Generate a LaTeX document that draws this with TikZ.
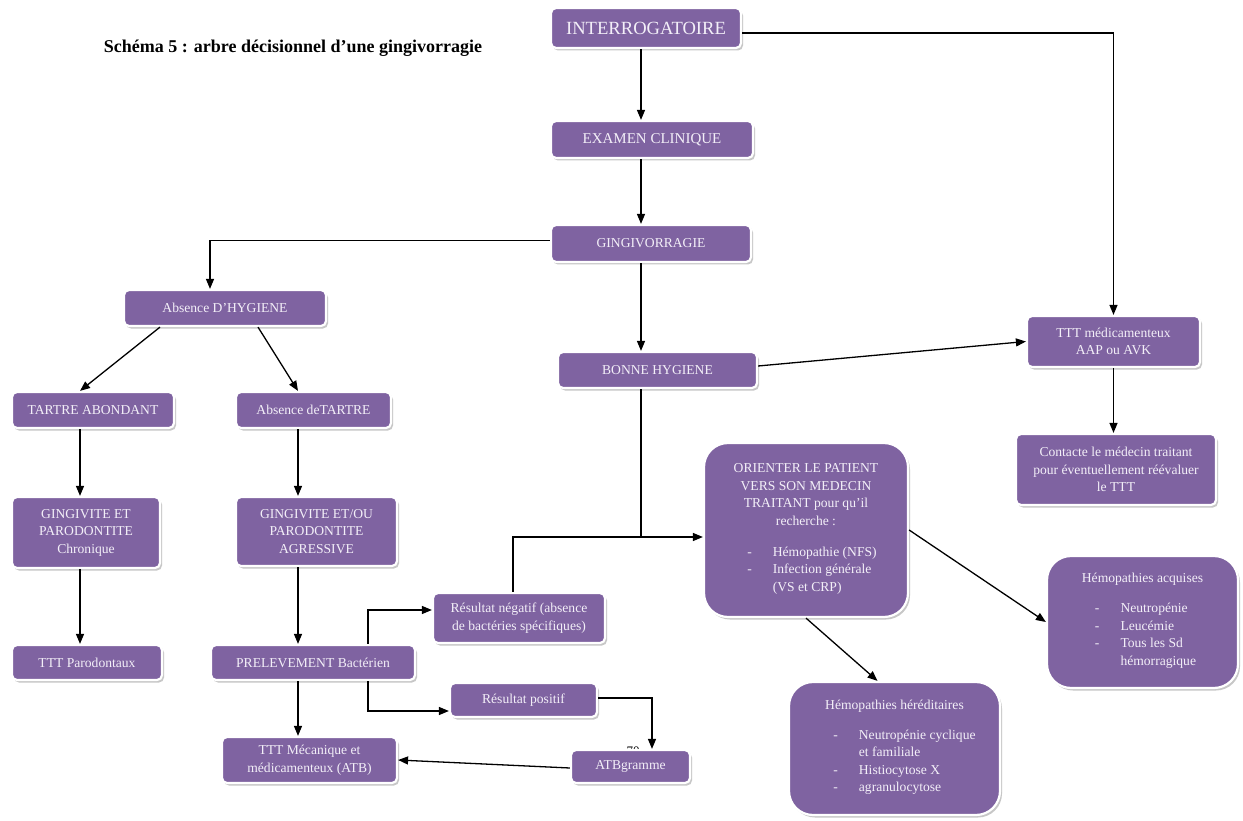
\documentclass[tikz,border=0pt]{standalone}
\usepackage{fontspec}
\setmainfont{Liberation Serif}
\usetikzlibrary{arrows.meta,shadows}
\definecolor{boxfill}{HTML}{7F63A1}
\definecolor{boxtext}{HTML}{F3EFF8}
\tikzset{
  box/.style={draw=white, line width=2.2pt, fill=boxfill, text=boxtext, rounded corners=5pt,
    align=center, inner sep=2pt, font=\fontsize{13.6}{17.5}\selectfont,
    drop shadow={shadow xshift=2pt, shadow yshift=-2.5pt, fill=black!22, opacity=1}},
  bigbox/.style={box, rounded corners=24pt},
  arr/.style={line width=1.3pt, -{Triangle[length=10pt,width=8pt]}},
  ln/.style={line width=1.3pt},
}
\newcommand{\lst}[1]{\begin{tabular}{@{}l@{\hspace{21pt}}l@{}}#1\end{tabular}}
\begin{document}
\begin{tikzpicture}[x=1pt,y=-1pt]
\useasboundingbox (0,0) rectangle (1243,821);
\fill[white] (0,0) rectangle (1243,821);
\node[font=\fontsize{18}{21}\selectfont\bfseries] (title) at (293,48) {Schéma 5 : arbre décisionnel d’une gingivorragie};
\node[font=\fontsize{13}{15}\selectfont] (pg) at (633,751) {70};

\coordinate (spine) at (641,0);
\coordinate (colL) at (80,0);
\coordinate (colM) at (298,0);
\coordinate (colR) at (368,0);

\node[box, minimum width=190pt, minimum height=40pt, font=\fontsize{18.6}{22}\selectfont] (intg) at (646,28) {INTERROGATOIRE};
\node[box, minimum width=202pt, minimum height=37pt, font=\fontsize{15}{18}\selectfont] (exam) at (652,139.5) {EXAMEN CLINIQUE};
\node[box, minimum width=200pt, minimum height=37pt] (gingiv) at (651,243.5) {GINGIVORRAGIE};
\node[box, minimum width=202pt, minimum height=36pt] (absh) at (225,308) {Absence D’HYGIENE};
\node[box, minimum width=162pt, minimum height=36pt] (tartre) at (93,410) {TARTRE ABONDANT};
\node[box, minimum width=155pt, minimum height=36pt] (abst) at (313.5,410) {Absence deTARTRE};
\node[box, minimum width=148pt, minimum height=71pt] (gchron) at (86,532.5) {GINGIVITE ET\\PARODONTITE\\Chronique};
\node[box, minimum width=161pt, minimum height=69pt] (gagr) at (316.5,531.5) {GINGIVITE ET/OU\\PARODONTITE\\AGRESSIVE};
\node[box, minimum width=150pt, minimum height=35pt] (tttp) at (87,662.5) {TTT Parodontaux};
\node[box, minimum width=204pt, minimum height=35pt] (prel) at (313,662.5) {PRELEVEMENT Bactérien};
\node[box, minimum width=172pt, minimum height=50pt] (rneg) at (519,618) {Résultat négatif (absence\\de bactéries spécifiques)};
\node[box, minimum width=147pt, minimum height=34pt] (rpos) at (523.5,700) {Résultat positif};
\node[box, minimum width=175pt, minimum height=46pt] (tttm) at (309.5,760) {TTT Mécanique et\\médicamenteux (ATB)};
\node[box, minimum width=119pt, minimum height=33pt] (atb) at (630.5,766.5) {ATBgramme};
\node[box, minimum width=199pt, minimum height=36pt] (bonne) at (657.5,370) {BONNE HYGIENE};
\node[bigbox, minimum width=204pt, minimum height=174pt] (orient) at (806,530)
  {ORIENTER LE PATIENT\\VERS SON MEDECIN\\TRAITANT pour qu’il\\recherche :\\[17.5pt]
   \hspace*{12pt}\lst{-& Hémopathie (NFS)\\ -& Infection générale\\ & (VS et CRP)}};
\node[box, minimum width=173pt, minimum height=51pt] (tttmed) at (1113.5,341.5) {TTT médicamenteux\\AAP ou AVK};
\node[box, minimum width=200pt, minimum height=71pt] (contact) at (1116,469.5) {Contacte le médecin traitant\\pour éventuellement réévaluer\\le TTT};
\node[bigbox, minimum width=191pt, minimum height=132pt] (acq) at (1142.5,622)
  {Hémopathies acquises\\[14pt]
   \hspace*{6pt}\lst{-& Neutropénie\\ -& Leucémie\\ -& Tous les Sd\\ & hémorragique}};
\node[bigbox, minimum width=211pt, minimum height=133pt] (her) at (894.5,748.5)
  {Hémopathies héréditaires\\[14pt]
   \hspace*{20pt}\lst{-& Neutropénie cyclique\\ & et familiale\\ -& Histiocytose X\\ -& agranulocytose}};

% connectors
\draw[arr] ([yshift=-5pt]intg.east) -| (tttmed.north);
\draw[arr] (intg.south -| spine) -- (exam.north -| spine);
\draw[arr] (exam.south -| spine) -- (gingiv.north -| spine);
\draw[arr] ([yshift=3pt]gingiv.west) -| ([xshift=-15pt]absh.north);
\draw[arr] (gingiv.south -| spine) -- (bonne.north -| spine);
\draw[arr] ([yshift=4pt]bonne.east) -- (tttmed.west);
\draw[arr] (bonne.south -| spine) |- ([yshift=-7pt]orient.west);
\draw[ln] ([xshift=-6pt]rneg.north) |- ([yshift=-7pt]orient.west -| spine);
\draw[arr] ([xshift=-65pt]absh.south) -- (tartre.north -| colL);
\draw[arr] ([xshift=33pt]absh.south) -- (abst.north -| colM);
\draw[arr] (tartre.south -| colL) -- (gchron.north -| colL);
\draw[arr] (gchron.south -| colL) -- (tttp.north -| colL);
\draw[arr] (abst.south -| colM) -- (gagr.north -| colM);
\draw[arr] (gagr.south -| colM) -- (prel.north -| colM);
\draw[arr] (prel.south -| colM) -- (tttm.north -| colM);
\draw[arr] (prel.north -| colR) |- ([yshift=8pt]rneg.west);
\draw[arr] (prel.south -| colR) |- ([yshift=-11pt]rpos.west);
\draw[arr] ([yshift=2pt]rpos.east) -| ([xshift=21.5pt]atb.north);
\draw[arr] ([yshift=-1.5pt]atb.west) -- (tttm.east);
\draw[arr] (tttmed.south) -- (tttmed.south |- contact.north);
\draw[arr] (orient.east) -- (acq.west);
\draw[arr] (orient.south) -- ([xshift=-17pt]her.north);
\end{tikzpicture}
\end{document}
